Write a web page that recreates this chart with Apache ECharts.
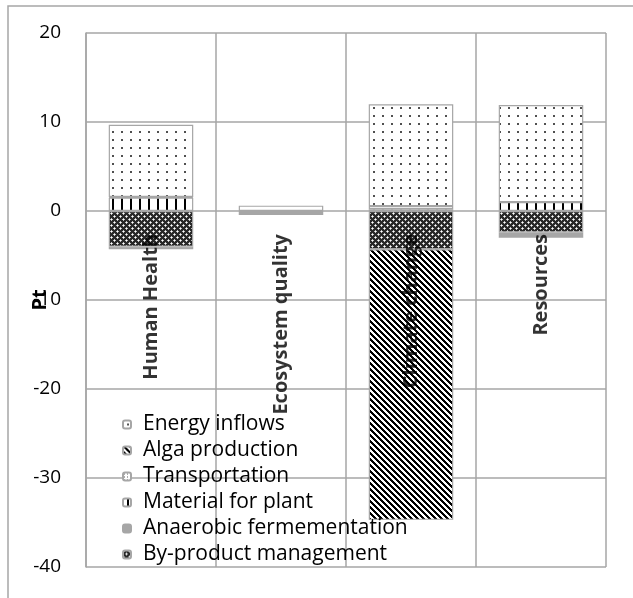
<!DOCTYPE html>
<html>
<head>
<meta charset="utf-8">
<script src="https://cdn.jsdelivr.net/npm/echarts@6/dist/echarts.min.js"></script>
<style>
  html, body { margin: 0; padding: 0; background: #fff; }
  #chart { width: 633px; height: 598px; }
</style>
</head>
<body>
<div id="chart"></div>
<script>
// Impact categories on the x axis
const categories = ['Human Health', 'Ecosystem quality', 'Climate change', 'Resources'];

// Contributions per process (Pt), one value per category
const byProductManagement = [-4.0, null, -4.3, -2.4];
const anaerobicFermentation = [-0.3, -0.45, null, -0.6];
const materialForPlant = [1.5, null, 0.2, 1.0];
const transportation = [0.08, null, 0.35, null];
const algaProduction = [null, null, -30.4, null];
const energyInflows = [8.1, 0.6, 11.45, 10.9];

// Value axis ticks
const yTicks = { min: -40, max: 20, step: 10 };

// Black-and-white fill patterns built pixel by pixel
function pixelPattern(w, h, paint) {
  const c = document.createElement('canvas');
  c.width = w; c.height = h;
  const ctx = c.getContext('2d');
  const img = ctx.createImageData(w, h);
  for (let y = 0; y < h; y++) {
    for (let x = 0; x < w; x++) {
      const v = paint(x, y);
      const i = (y * w + x) * 4;
      img.data[i] = v; img.data[i + 1] = v; img.data[i + 2] = v; img.data[i + 3] = 255;
    }
  }
  ctx.putImageData(img, 0, 0);
  return { image: c, repeat: 'repeat' };
}

const patDots = pixelPattern(9, 8, (x, y) => {
  if ((x === 4 || x === 5) && (y === 3 || y === 4)) return 80;
  return 255;
});
const patDiagonal = pixelPattern(6, 6, (x, y) => (((x - y) % 6 + 6) % 6) < 3 ? 0 : 255);
const patVertical = pixelPattern(9, 1, (x) => (x === 4 || x === 5) ? 0 : 255);
const patFineDots = pixelPattern(3, 3, (x, y) => (x === 1 && y === 1) ? 90 : 255);
const patCross = pixelPattern(6, 6, (x, y) => {
  if ((x === 0 && y === 0) || (x === 3 && y === 3)) return 255;
  if ((x === 1 && y === 0) || (x === 5 && y === 0) || (x === 0 && y === 1) || (x === 0 && y === 5)) return 190;
  if ((x === 2 && y === 3) || (x === 4 && y === 3) || (x === 3 && y === 2) || (x === 3 && y === 4)) return 190;
  return 40;
});

const edge = '#a6a6a6';
const font = 'Open Sans';

function bar(name, data, fill) {
  return {
    name: name,
    type: 'bar',
    stack: 'total',
    data: data,
    barCategoryGap: '35%',
    itemStyle: { color: fill, borderColor: edge, borderWidth: 1.2 },
    emphasis: { disabled: true }
  };
}

const chart = echarts.init(document.getElementById('chart'), null, { renderer: 'canvas' });

chart.setOption({
  animation: false,
  backgroundColor: '#fff',
  graphic: [{
    type: 'rect',
    shape: { x: 8, y: 6, width: 700, height: 700 },
    style: { fill: 'none', stroke: edge, lineWidth: 1.5 },
    silent: true
  }],
  grid: { left: 86, right: 27, top: 33, bottom: 31, outerBoundsMode: 'none', containLabel: false },
  legend: {
    orient: 'vertical',
    left: 122,
    top: 414,
    itemWidth: 8,
    itemHeight: 8,
    itemGap: 5,
    padding: 0,
    z: 10,
    data: ['Energy inflows', 'Alga production', 'Transportation', 'Material for plant',
           'Anaerobic fermementation', 'By-product management'],
    textStyle: { fontFamily: font, fontSize: 21, lineHeight: 21, color: '#000', padding: [0, 0, 0, 7] }
  },
  xAxis: {
    type: 'category',
    data: categories,
    axisLine: { show: false },
    axisTick: { show: false },
    axisLabel: { show: false },
    splitLine: { show: true, interval: 0, lineStyle: { color: edge, width: 1.5 } }
  },
  yAxis: {
    type: 'value',
    min: yTicks.min,
    max: yTicks.max,
    interval: yTicks.step,
    name: 'Pt',
    nameLocation: 'middle',
    nameGap: 36,
    nameMoveOverlap: false,
    nameTextStyle: { fontFamily: font, fontSize: 20, fontWeight: 'bold', color: '#000' },
    axisLine: { show: true, lineStyle: { color: edge, width: 1.5 } },
    axisTick: { show: false },
    splitLine: { show: true, lineStyle: { color: edge, width: 1.5 } },
    axisLabel: { margin: 25, fontFamily: font, fontSize: 19, color: '#000' }
  },
  series: [
    bar('By-product management', byProductManagement, patCross),
    bar('Anaerobic fermementation', anaerobicFermentation, '#a6a6a6'),
    bar('Material for plant', materialForPlant, patVertical),
    bar('Transportation', transportation, patFineDots),
    bar('Alga production', algaProduction, patDiagonal),
    bar('Energy inflows', energyInflows, patDots),
    // Category names hang from the zero line, reading upwards
    {
      type: 'scatter',
      z: 6,
      symbolSize: 0,
      silent: true,
      data: categories.map(c => [c, 0]),
      label: {
        show: true,
        formatter: p => p.data[0],
        position: 'bottom',
        distance: 23,
        rotate: 90,
        align: 'right',
        verticalAlign: 'middle',
        fontFamily: font,
        fontSize: 20,
        fontWeight: 'bold',
        color: '#000'
      }
    }
  ]
});
</script>
</body>
</html>
